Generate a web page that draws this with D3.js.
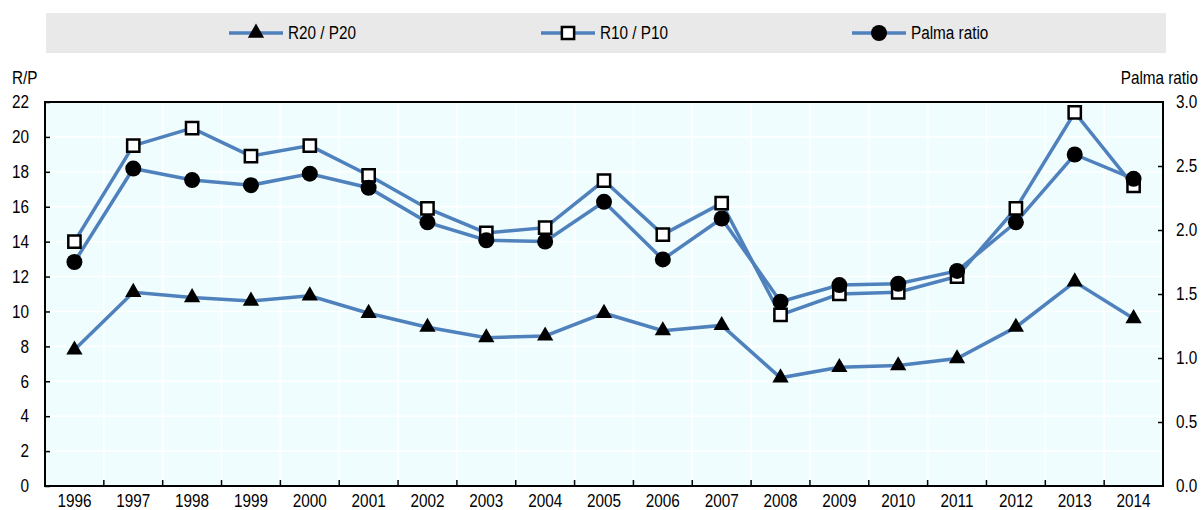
<!DOCTYPE html>
<html>
<head>
<meta charset="utf-8">
<script src="https://cdn.jsdelivr.net/npm/d3@7"></script>
<style>
  body { margin: 0; background: #fff; }
  svg text { font-family: "Liberation Sans", Arial, sans-serif; fill: #000; }
</style>
</head>
<body>
<div id="chart"></div>
<script>
// Données
const years = ['1996','1997','1998','1999','2000','2001','2002','2003','2004','2005','2006','2007','2008','2009','2010','2011','2012','2013','2014'];
const r20p20 = [7.8, 11.1, 10.8, 10.6, 10.9, 9.9, 9.1, 8.5, 8.6, 9.9, 8.9, 9.2, 6.2, 6.8, 6.9, 7.3, 9.1, 11.7, 9.6];
const r10p10 = [14.0, 19.5, 20.5, 18.9, 19.5, 17.8, 15.9, 14.5, 14.8, 17.5, 14.4, 16.2, 9.8, 11.0, 11.1, 12.0, 15.9, 21.4, 17.2];
const palma = [1.75, 2.48, 2.39, 2.35, 2.44, 2.33, 2.06, 1.92, 1.91, 2.22, 1.77, 2.09, 1.44, 1.57, 1.58, 1.68, 2.06, 2.59, 2.40];
const leftTicks = [0, 2, 4, 6, 8, 10, 12, 14, 16, 18, 20, 22];
const rightTicks = [0, 0.5, 1.0, 1.5, 2.0, 2.5, 3.0];
const legendLabels = ['R20 / P20', 'R10 / P10', 'Palma ratio'];

const W = 1203, H = 510;
const plot = { left: 45, right: 1163, top: 102, bottom: 486 };
const blue = '#4f81bd';

const svg = d3.select('#chart').append('svg')
    .attr('width', W)
    .attr('height', H);

// Échelles
const x = d3.scaleBand().domain(years).range([plot.left, plot.right]);
const y = d3.scaleLinear().domain([0, 22]).range([plot.bottom, plot.top]);
const y2 = d3.scaleLinear().domain([0, 3]).range([plot.bottom, plot.top]);
const cx = d => x(d) + x.bandwidth() / 2;

// Fond du graphique
svg.append('rect')
    .attr('x', plot.left).attr('y', plot.top)
    .attr('width', plot.right - plot.left).attr('height', plot.bottom - plot.top)
    .attr('fill', '#f0fdfe');

// Grille blanche
svg.append('g')
    .selectAll('line')
    .data(leftTicks.slice(1, -1))
    .join('line')
    .attr('x1', plot.left).attr('x2', plot.right)
    .attr('y1', d => y(d)).attr('y2', d => y(d))
    .attr('stroke', '#fff').attr('stroke-width', 1.5);

svg.append('g')
    .selectAll('line')
    .data(years.slice(1))
    .join('line')
    .attr('x1', d => x(d)).attr('x2', d => x(d))
    .attr('y1', plot.top).attr('y2', plot.bottom)
    .attr('stroke', '#fff').attr('stroke-width', 1.5);

// Axes
const axisLeft = svg.append('g')
    .attr('transform', `translate(${plot.left},0)`)
    .call(d3.axisLeft(y).tickValues(leftTicks).tickSize(-5).tickPadding(16));

const axisRight = svg.append('g')
    .attr('transform', `translate(${plot.right},0)`)
    .call(d3.axisRight(y2).tickValues(rightTicks).tickSize(-5).tickPadding(13).tickFormat(d3.format('.1f')));

const axisBottom = svg.append('g')
    .attr('transform', `translate(0,${plot.bottom})`)
    .call(d3.axisBottom(x).tickSize(0).tickPadding(8));

// petits traits de l'axe x entre les années
svg.append('g')
    .selectAll('line')
    .data(years.slice(1))
    .join('line')
    .attr('x1', d => x(d)).attr('x2', d => x(d))
    .attr('y1', plot.bottom).attr('y2', plot.bottom - 6)
    .attr('stroke', '#000').attr('stroke-width', 1.5);

[axisLeft, axisRight, axisBottom].forEach(g => {
    g.selectAll('.domain').remove();
    g.selectAll('.tick line').attr('stroke', '#000').attr('stroke-width', 1.5);
    g.selectAll('.tick text').style('font-size', '18px');
});
axisLeft.selectAll('.tick text').attr('text-anchor', 'end');
axisRight.selectAll('.tick text').attr('text-anchor', 'start');
axisRight.selectAll('.tick').filter(d => d === 0 || d === 3).select('line').remove();

// Cadre
svg.append('path')
    .attr('d', `M${plot.left},${plot.bottom} V${plot.top} H${plot.right} V${plot.bottom} Z`)
    .attr('fill', 'none')
    .attr('stroke', '#000')
    .attr('stroke-width', 2);

// Symboles
const triangle = d3.symbol().type(d3.symbolTriangle).size(115);
const square = d3.symbol().type(d3.symbolSquare).size(150);

function drawMarker(g, kind, px, py) {
    if (kind === 0) {
        g.append('path').attr('d', triangle()).attr('transform', `translate(${px},${py})`).attr('fill', '#000');
    } else if (kind === 1) {
        g.append('path').attr('d', square()).attr('transform', `translate(${px},${py})`)
            .attr('fill', '#fff').attr('stroke', '#000').attr('stroke-width', 2.5);
    } else {
        g.append('circle').attr('cx', px).attr('cy', py).attr('r', 8).attr('fill', '#000');
    }
}

// Séries
const series = [
    { values: r20p20, scale: y, kind: 0 },
    { values: r10p10, scale: y, kind: 1 },
    { values: palma, scale: y2, kind: 2 }
];

series.forEach(s => {
    const line = d3.line()
        .x((d, i) => cx(years[i]))
        .y(d => s.scale(d));
    svg.append('path')
        .datum(s.values)
        .attr('d', line)
        .attr('fill', 'none')
        .attr('stroke', blue)
        .attr('stroke-width', 3.5);
});

// marqueurs dessinés après toutes les lignes, cercles en dernier
[1, 2, 0].forEach(k => {
    const s = series[k];
    const g = svg.append('g');
    s.values.forEach((v, i) => drawMarker(g, s.kind, cx(years[i]), s.scale(v)));
});

// Légende
svg.append('rect')
    .attr('x', 46).attr('y', 13)
    .attr('width', 1120).attr('height', 40)
    .attr('fill', '#e9e9e9');

const legendX = [256, 568, 879];
legendLabels.forEach((lab, i) => {
    const g = svg.append('g');
    g.append('line')
        .attr('x1', legendX[i] - 27).attr('x2', legendX[i] + 27)
        .attr('y1', 33).attr('y2', 33)
        .attr('stroke', blue).attr('stroke-width', 3.5);
    drawMarker(g, i, legendX[i], 33);
    g.append('text')
        .attr('x', legendX[i] + 32).attr('y', 39)
        .style('font-size', '18px')
        .text(lab);
});

// Titre axe gauche
svg.append('text').attr('x', 12).attr('y', 84).style('font-size', '18px').text('R/P');

// texte étroit (comme Arial Narrow)
svg.selectAll('text').each(function () {
    const w = this.getComputedTextLength();
    d3.select(this)
        .attr('textLength', w * 0.85)
        .attr('lengthAdjust', 'spacingAndGlyphs');
});

// Titre axe droit, resserré par une transformation
svg.append('text')
    .attr('transform', 'translate(1198,84) scale(0.85,1)')
    .attr('text-anchor', 'end')
    .style('font-size', '18px')
    .text('Palma ratio');
</script>
</body>
</html>
